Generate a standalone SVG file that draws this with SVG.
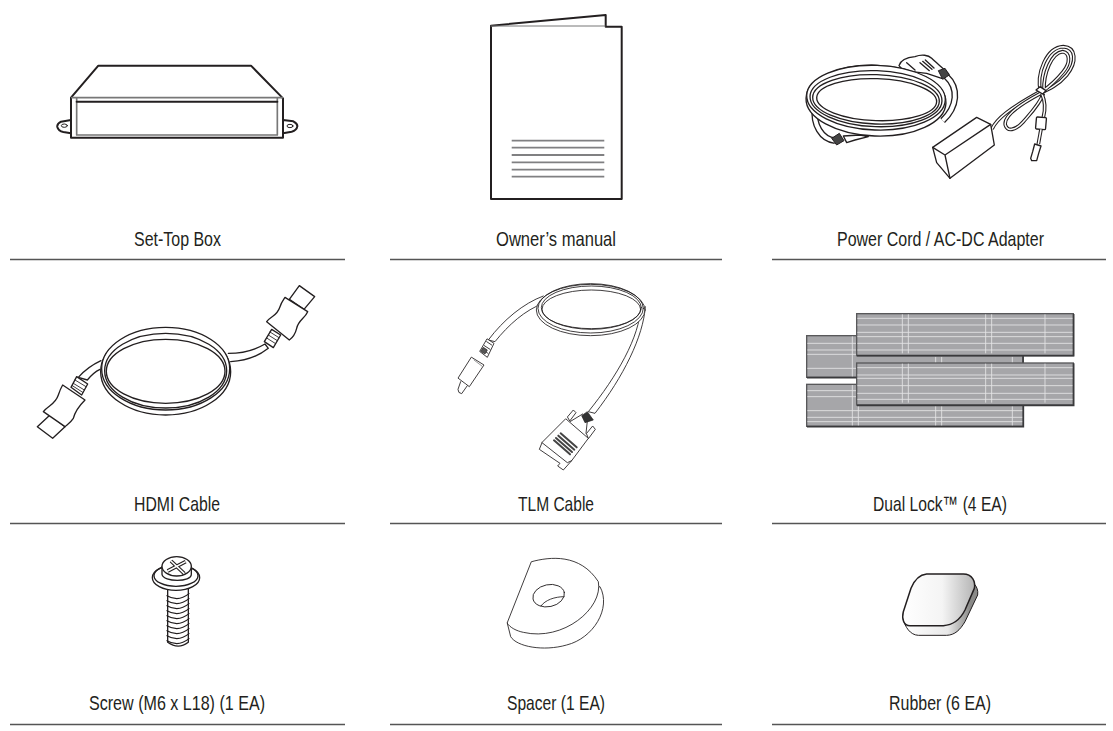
<svg xmlns="http://www.w3.org/2000/svg" width="1113" height="731" viewBox="0 0 1113 731">
<style>
text{font-family:"Liberation Sans",Arial,sans-serif;font-size:21px;fill:#231f20;text-anchor:start}
.rule{stroke:#555;stroke-width:1.5;fill:none}
.l{fill:none;stroke:#231f20;stroke-linejoin:round;stroke-linecap:round}
.w{fill:#fff;stroke:#231f20;stroke-linejoin:round;stroke-linecap:round}
.z{stroke-width:4}
.t{stroke-width:2.6}
.c1{fill:none;stroke:#231f20;stroke-width:11;stroke-linecap:butt;stroke-linejoin:round}
.c2{fill:none;stroke:#fff;stroke-width:4.500;stroke-linecap:butt;stroke-linejoin:round}
.c3{fill:none;stroke:#231f20;stroke-width:20;stroke-linecap:butt}
.c4{fill:none;stroke:#fff;stroke-width:12;stroke-linecap:butt}
.strip{fill:#a6a6a9;stroke:#58585a;stroke-width:4}
.hl{stroke:#e4e4e6;stroke-width:2.6;fill:none}
</style>
<defs>
<linearGradient id="rt" x1="0" x2="1" y1="0" y2="0"><stop offset="0" stop-color="#fff"/><stop offset=".55" stop-color="#f4f4f4"/><stop offset="1" stop-color="#b5b5b5"/></linearGradient>
<linearGradient id="rs" x1="0" x2="1" y1="0" y2="0"><stop offset="0" stop-color="#fff"/><stop offset=".6" stop-color="#e8e8e8"/><stop offset=".9" stop-color="#8a8a88"/><stop offset="1" stop-color="#8a8a88"/></linearGradient>
<path id="ad1" d="M636 297C650 265 690 235 780 185"/>
<path id="ad2" d="M782 188C768 130 800 52 850 50C888 52 892 95 860 135C835 165 805 178 782 188"/>
<path id="ad3" d="M792 182C790 130 815 68 848 65C870 68 872 98 850 125C830 150 805 172 782 188"/>
<path id="ad4" d="M782 190C735 215 670 255 676 285C682 305 705 303 730 275C750 252 780 222 790 190"/>
<path id="ad5" d="M786 192C796 215 796 240 790 262"/>
<path id="ad6" d="M783 298L775 342"/>
<path id="x1" d="M68 48L122 20"/><path id="x2" d="M78 18L118 56"/>
<path id="tailA" d="M438 78C478 115 472 170 428 212"/>
<path id="tailB" d="M45 170C38 225 65 268 105 272"/>
</defs>

<g id="rules"><path class="rule" d="M10 259.5H345M390 259.5H722M772 259.5H1106M10 523.5H345M390 523.5H722M772 523.5H1106M10 724.5H345M390 724.5H722M772 724.5H1106"/></g>

<g id="set-top-box" transform="translate(45 55) scale(.33333)">
<path class="w" stroke-width="6" d="M78 195L48 200Q35 207 37 216Q40 228 55 231L78 235ZM714 195L745 199Q758 206 757 214Q755 226 740 230L714 235Z"/>
<ellipse class="l" stroke-width="3" cx="58" cy="212" rx="9" ry="5"/><ellipse class="l" stroke-width="3" cx="735" cy="213" rx="9" ry="5"/>
<path class="w" stroke-width="6" d="M78 128L160 32H618L714 130V248H78Z"/>
<path class="l" style="stroke:#777" stroke-width="5" d="M80 128H712M95 130V240H697V130"/>
<path class="l" stroke-width="6" d="M95 140H697"/>
</g>

<g id="owners-manual">
<path class="w" stroke-width="2" d="M491 25.700L605.700 15V26.700H621.700V199H491Z"/>
<path class="l" style="stroke:#777" stroke-width="1" d="M491 26H605"/>
<path class="l" style="stroke:#808082;stroke-linecap:butt" stroke-width="1.800" d="M511.700 140.700H604.300M511.700 147.700H604.300M511.700 155H604.300M511.700 162.300H604.300M511.700 169.700H604.300M511.700 176.700H604.300"/>
</g>

<g id="power-cord">
<g transform="translate(800 50) scale(.33333)">
<use href="#tailA" class="c3"/><use href="#tailA" class="c4"/>
<use href="#tailB" class="c3"/><use href="#tailB" class="c4"/>
<path class="w z" d="M297 47C302 30 320 22 345 20C365 12 385 15 395 25C410 40 430 55 446 72L425 85L380 70L310 62Z"/>
<path class="l z" d="M320 38L345 60M360 38L388 62M368 34L396 58M376 30L402 54"/>
<path fill="#444" stroke="#231f20" stroke-width="3" d="M415 62L435 55L448 75L428 88Z"/>
<path class="w z" d="M130 258L180 255L205 260L165 270L140 278Z"/>
<path fill="#444" stroke="#231f20" stroke-width="3" d="M95 265L118 250L132 272L110 285Z"/>
<ellipse class="w z" cx="228" cy="152" rx="210" ry="106" transform="rotate(2 228 152)"/>
<ellipse class="w z" cx="228" cy="143" rx="208" ry="97" transform="rotate(2 228 143)"/>
<ellipse class="l z" cx="228" cy="146" rx="198" ry="84" transform="rotate(2 228 146)"/>
<ellipse class="l z" cx="228" cy="148" rx="190" ry="74" transform="rotate(2 228 148)"/>
<ellipse class="l z" cx="230" cy="149" rx="180" ry="63" transform="rotate(2 230 149)"/>
</g>
<g transform="translate(780 30) scale(.33333)">
<use href="#ad1" class="c1"/><use href="#ad1" class="c2"/>
<use href="#ad4" class="c1"/><use href="#ad4" class="c2"/>
<use href="#ad2" class="c1"/><use href="#ad2" class="c2"/>
<use href="#ad3" class="c1"/><use href="#ad3" class="c2"/>
<use href="#ad5" class="c1"/><use href="#ad5" class="c2"/>
<path class="w z" d="M768 180L780 170L798 182L788 192Z"/>
<rect class="w z" x="768" y="262" width="30" height="36" rx="3" transform="rotate(5 783 280)"/>
<use href="#ad6" class="c1"/><use href="#ad6" class="c2"/>
<path class="w z" d="M764 342L783 348L776 370L770 392L755 392L752 385L758 365Z"/>
<path class="w z" d="M458 352L590 262L632 283L643 345L510 445L470 398Z"/>
<path class="l z" d="M458 352L495 375L632 283M495 375L510 445"/>
</g>
</g>

<g id="hdmi-cable" transform="translate(20 270) scale(.33333)">
<path class="w z" d="M625 250C670 250 705 240 735 222L745 235C720 255 680 272 632 275"/>
<path class="w z" d="M243 272C215 285 190 305 175 322L202 330C210 320 225 305 240 298"/>
<ellipse class="w z" cx="437" cy="305" rx="195" ry="130"/>
<ellipse class="w z" cx="437" cy="296" rx="192" ry="124"/>
<ellipse class="l z" cx="437" cy="302" rx="183" ry="112"/>
<ellipse class="l z" cx="437" cy="304" rx="178" ry="96"/>
<path class="w z" d="M838 47L884 80L852 118L808 88Z"/>
<path class="w z" d="M795 82L863 125C855 145 835 150 830 175C825 195 815 205 808 210L740 155C755 135 770 140 780 110C785 95 790 90 795 82Z"/>
<path class="w z" d="M755 178L782 195L760 233L733 215Z"/>
<path class="l t" d="M750 186L777 203M745 195L772 212M740 204L767 221"/>
<path class="w z" d="M52 470L90 435L135 470L98 505Z"/>
<path class="w z" d="M128 345L195 390C180 405 165 425 160 445C150 460 140 465 135 470L70 425C85 405 105 405 115 375C120 360 122 355 128 345Z"/>
<path class="w z" d="M170 320L203 342L185 375L153 352Z"/>
<path class="l t" d="M165 330L198 350M160 340L193 360M157 347L188 367"/>
</g>

<g id="tlm-cable" transform="translate(430 270) scale(.33333)">
<path class="w t" d="M340 78C280 100 220 150 175 210L195 215C235 165 285 120 340 100"/>
<path class="w t" d="M632 110C630 200 560 320 475 425L495 430C580 320 640 200 646 110"/>
<ellipse class="w t" cx="482" cy="120" rx="163" ry="77"/>
<ellipse class="l t" cx="482" cy="115" rx="158" ry="74"/>
<ellipse class="l t" cx="484" cy="113" rx="150" ry="65"/>
<ellipse class="l t" cx="484" cy="118" rx="148" ry="58"/>
<path class="w t" d="M172 207L192 220L172 262L150 245Z"/>
<path class="l t" d="M170 215L185 225M163 227L180 238M157 238L174 250"/>
<path fill="#555" stroke="#231f20" stroke-width="2" d="M160 232L172 240L165 252L152 244Z"/>
<path class="w t" d="M125 262L162 285L118 350L85 325Z"/>
<path class="l t" d="M132 270L158 290" style="stroke:#888"/>
<path class="w t" d="M92 335L84 358Q84 370 95 371L112 347"/>
<path class="w t" d="M413 440L430 420L438 428L420 452ZM470 490L488 468L496 478L476 505Z"/>
<path class="l t" d="M420 455L458 432M472 453L468 490"/>
<path fill="#333" stroke="#231f20" stroke-width="2" d="M455 437L472 425L490 450L465 458Z"/>
<path class="w t" d="M408 447L475 505L425 572L400 600L383 588L390 580L328 538L336 518Z"/>
<path class="l t" d="M336 518L412 578L425 572"/>
<path d="M392 490L440 532M385 497L433 539M378 504L426 546M372 511L420 553" stroke="#444" stroke-width="6" stroke-linecap="round"/>
</g>

<g id="dual-lock" transform="translate(790 300) scale(.33333)">
<g id="dl-back-1"><rect class="strip" x="50" y="107" width="650" height="125"/><path class="hl" d="M52 130H698M52 150H698M52 163H698M52 205H698M187 109V230M205 109V230"/></g>
<g id="dl-back-2"><rect class="strip" x="50" y="253" width="650" height="126"/><path class="hl" d="M52 272H698M52 290H698M52 332H698M52 352H698M52 365H698M187 255V377M205 255V377M437 255V377M455 255V377M667 255V377"/></g>
<path fill="#a6a6a9" d="M200 165H700V190H200Z"/><path class="hl" d="M437 170V190M455 170V190M667 170V190"/><path d="M699 168V190" stroke="#3a3a3c" stroke-width="5"/>
<g id="dl-front-1"><rect class="strip" x="200" y="41" width="650" height="126"/><path class="hl" d="M202 55H848M202 75H848M202 97H848M202 110H848M202 130H848M202 150H848M337 43V160M355 43V160M587 43V160M605 43V160M765 43V160"/></g>
<g id="dl-front-2"><rect class="strip" x="200" y="189" width="650" height="126"/><path class="hl" d="M202 203H848M202 225H848M202 235H848M202 257H848M202 280H848M202 298H848M337 191V308M355 191V308M587 191V308M605 191V308M765 191V308"/></g>
<path d="M201 167H851V42M201 316H851V190M51 233H200M51 380H700V318" fill="none" stroke="#3a3a3c" stroke-width="5"/>
</g>

<g id="screw" transform="translate(145 555) scale(.33333)">
<path class="w z" d="M68 100V262Q100 285 130 262V100Z"/>
<path class="l" stroke-width="3.500" d="M66 122Q100 142 132 116M66 137Q100 157 132 131M66 152Q100 172 132 146M66 167Q100 187 132 161M66 182Q100 202 132 176M66 197Q100 217 132 191M66 212Q100 232 132 206M66 227Q100 247 132 221M66 242Q100 262 132 236M66 257Q100 277 132 251"/>
<ellipse class="w z" cx="93" cy="68" rx="71" ry="38"/>
<ellipse class="l z" cx="93" cy="62" rx="66" ry="32"/>
<path class="w z" d="M51 34V58C55 82 140 82 139 58V34Z"/>
<ellipse class="w z" cx="95" cy="34" rx="44" ry="29"/>
<use href="#x1" class="c1"/><use href="#x2" class="c1"/><use href="#x1" class="c2"/><use href="#x2" class="c2"/>
</g>

<g id="spacer" transform="translate(490 545) scale(.33333)">
<path class="w t" d="M52 235L62 275C80 305 160 320 230 300C310 280 365 190 330 125L200 150Z"/>
<path class="w t" d="M125 50C180 35 270 25 325 110C340 190 220 290 100 262C80 258 60 248 52 235Z"/>
<ellipse class="w t" cx="176" cy="152" rx="48" ry="33" transform="rotate(-12 176 152)"/>
<path class="l t" d="M153 183C165 165 195 155 222 155"/>
</g>

<g id="rubber" transform="translate(885 560) scale(.33333)">
<path fill="url(#rs)" stroke="#231f20" stroke-width="3" stroke-linejoin="round" d="M55 178C60 200 75 225 100 226H185C210 225 225 210 240 185L278 105C280 90 275 80 268 72Z"/>
<path fill="url(#rt)" stroke="#231f20" stroke-width="4.500" stroke-linejoin="round" d="M125 42H235C262 42 272 65 268 85L240 150C225 180 205 195 175 197H75C55 197 50 175 55 155L78 85C88 60 105 44 125 42Z"/>
</g>

<g id="labels">
<text x="134" y="246" textLength="87" lengthAdjust="spacingAndGlyphs">Set-Top Box</text>
<text x="496" y="246" textLength="120" lengthAdjust="spacingAndGlyphs">Owner’s manual</text>
<text x="837" y="246" textLength="207" lengthAdjust="spacingAndGlyphs">Power Cord / AC-DC Adapter</text>
<text x="134" y="511" textLength="86" lengthAdjust="spacingAndGlyphs">HDMI Cable</text>
<text x="518" y="511" textLength="76" lengthAdjust="spacingAndGlyphs">TLM Cable</text>
<text x="873" y="511" textLength="134" lengthAdjust="spacingAndGlyphs">Dual Lock™ (4 EA)</text>
<text x="89" y="710" textLength="176" lengthAdjust="spacingAndGlyphs">Screw (M6 x L18) (1 EA)</text>
<text x="507" y="710" textLength="98" lengthAdjust="spacingAndGlyphs">Spacer (1 EA)</text>
<text x="889" y="710" textLength="102" lengthAdjust="spacingAndGlyphs">Rubber (6 EA)</text>
</g>
</svg>
